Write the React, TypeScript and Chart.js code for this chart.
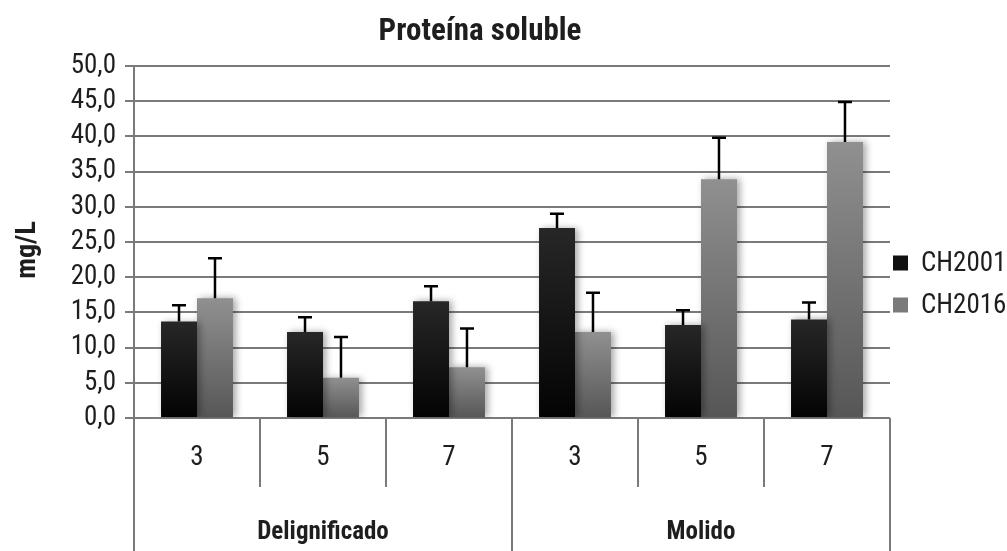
import React, { useEffect, useRef } from "react";
import { Chart, registerables } from "chart.js";

Chart.register(...registerables);

const categories = ["3", "5", "7", "3", "5", "7"];
const groups = ["Delignificado", "Molido"];
const groupSize = 3;
const seriesNames = ["CH2001", "CH2016"];
const ch2001 = [13.7, 12.2, 16.6, 27.0, 13.2, 14.0];
const ch2001Err = [2.3, 2.1, 2.1, 2.0, 2.1, 2.4];
const ch2016 = [17.0, 5.7, 7.2, 12.2, 33.9, 39.2];
const ch2016Err = [5.7, 5.8, 5.5, 5.6, 5.9, 5.7];
const yMin = 0;
const yMax = 50;
const yStep = 5;
const titleText = "Proteína soluble";
const yTitle = "mg/L";

const FAMILY = '"Roboto Condensed", "DejaVu Sans Condensed", "Liberation Sans", sans-serif';
const GRID = "#7a7a7a";
const TEXT = "#1e1e1e";

const topColors = ["#272727", "#909090"];
const bottomColors = ["#030303", "#565656"];
const legendColors = ["#111111", "#7a7a7a"];

function barGradient(ctx: any, dsIndex: number) {
  const chart = ctx.chart;
  const area = chart.chartArea;
  if (!area || ctx.type !== "data") return bottomColors[dsIndex];
  const y = chart.scales.y;
  const v = ctx.raw as number;
  const top = y.getPixelForValue(v);
  const bottom = y.getPixelForValue(0);
  if (!isFinite(top) || Math.abs(bottom - top) < 1) return bottomColors[dsIndex];
  const g = chart.ctx.createLinearGradient(0, top, 0, bottom);
  g.addColorStop(0, topColors[dsIndex]);
  g.addColorStop(1, bottomColors[dsIndex]);
  return g;
}

const errors = [ch2001Err, ch2016Err];

const shadowPlugin = {
  id: "barShadow",
  beforeDatasetsDraw(chart: any) {
    const c = chart.ctx;
    c.save();
    c.shadowColor = "rgba(0,0,0,0.35)";
    c.shadowBlur = 7;
    c.shadowOffsetX = 3;
    c.shadowOffsetY = 0;
  },
  afterDatasetsDraw(chart: any) {
    chart.ctx.restore();
  },
};

const decorPlugin = {
  id: "decor",
  afterDatasetsDraw(chart: any) {
    const c = chart.ctx;
    const ys = chart.scales.y;
    c.save();
    c.strokeStyle = "#000";
    c.lineWidth = 2.5;
    chart.data.datasets.forEach((ds: any, di: number) => {
      const meta = chart.getDatasetMeta(di);
      meta.data.forEach((el: any, i: number) => {
        const v = ds.data[i];
        const e = errors[di][i];
        const y0 = ys.getPixelForValue(v);
        const y1 = ys.getPixelForValue(v + e);
        c.beginPath();
        c.moveTo(el.x, y0);
        c.lineTo(el.x, y1);
        c.moveTo(el.x - 7, y1);
        c.lineTo(el.x + 7, y1);
        c.stroke();
      });
    });
    c.restore();
  },
  afterDraw(chart: any) {
    const c = chart.ctx;
    const xs = chart.scales.x;
    const area = chart.chartArea;
    const n = categories.length;
    const half = (xs.getPixelForValue(1) - xs.getPixelForValue(0)) / 2;
    c.save();
    c.strokeStyle = GRID;
    c.lineWidth = 2;
    for (let i = 0; i <= n; i++) {
      const x = i < n ? xs.getPixelForValue(i) - half : xs.getPixelForValue(n - 1) + half;
      const isGroup = i % groupSize === 0;
      const yEnd = isGroup ? chart.height : area.bottom + 69;
      c.beginPath();
      c.moveTo(Math.round(x), area.bottom);
      c.lineTo(Math.round(x), yEnd);
      c.stroke();
    }
    c.fillStyle = TEXT;
    c.font = `bold 25px ${FAMILY}`;
    c.textAlign = "center";
    c.textBaseline = "middle";
    groups.forEach((g, gi) => {
      const a = xs.getPixelForValue(gi * groupSize) - half;
      const b = xs.getPixelForValue(gi * groupSize + groupSize - 1) + half;
      c.fillText(g, (a + b) / 2, area.bottom + 115);
    });
    c.font = `bold 31px ${FAMILY}`;
    c.fillText(titleText, 480, 32);
    c.save();
    c.translate(28, 250);
    c.rotate(-Math.PI / 2);
    c.font = `bold 28px ${FAMILY}`;
    c.fillText(yTitle, 0, 0);
    c.restore();
    c.font = `27px ${FAMILY}`;
    c.textAlign = "left";
    const legendY = [263, 305];
    seriesNames.forEach((name, i) => {
      c.fillStyle = legendColors[i];
      c.fillRect(area.right + 3, legendY[i] - 7.5, 15, 15);
      c.fillStyle = TEXT;
      c.fillText(name, area.right + 31, legendY[i] + 1);
    });
    c.restore();
  },
};

export default function App() {
  const ref = useRef<HTMLCanvasElement | null>(null);
  useEffect(() => {
    if (!ref.current) return;
    const chart = new Chart(ref.current, {
      type: "bar",
      data: {
        labels: categories,
        datasets: [
          {
            label: seriesNames[0],
            data: ch2001,
            backgroundColor: (ctx: any) => barGradient(ctx, 0),
            borderWidth: 0,
          },
          {
            label: seriesNames[1],
            data: ch2016,
            backgroundColor: (ctx: any) => barGradient(ctx, 1),
            borderWidth: 0,
          },
        ],
      },
      options: {
        animation: false,
        responsive: false,
        devicePixelRatio: 1,
        layout: { padding: { top: 66, right: 117, left: 0, bottom: 0 } },
        datasets: { bar: { categoryPercentage: 0.571, barPercentage: 1 } },
        plugins: {
          legend: { display: false },
          title: { display: false },
          tooltip: { enabled: false },
        },
        scales: {
          x: {
            grid: { display: false },
            border: { display: false },
            ticks: {
              font: { family: FAMILY, size: 27 },
              color: TEXT,
              padding: 16,
              maxRotation: 0,
              autoSkip: false,
            },
            afterFit: (s: any) => {
              s.height = 133;
            },
          },
          y: {
            min: yMin,
            max: yMax,
            ticks: {
              stepSize: yStep,
              autoSkip: false,
              font: { family: FAMILY, size: 27 },
              color: TEXT,
              padding: 9,
              callback: (v: any) => Number(v).toFixed(1).replace(".", ","),
            },
            grid: { color: GRID, lineWidth: 2, tickLength: 9 },
            border: { color: GRID, width: 2 },
            afterFit: (s: any) => {
              s.width = 134;
            },
          },
        },
      },
      plugins: [shadowPlugin, decorPlugin],
    });
    return () => chart.destroy();
  }, []);
  return (
    <div style={{ position: "fixed", left: 0, top: 0, width: 1007, height: 551, background: "#fff" }}>
      <canvas ref={ref} width={1007} height={551} style={{ width: 1007, height: 551 }} />
    </div>
  );
}
